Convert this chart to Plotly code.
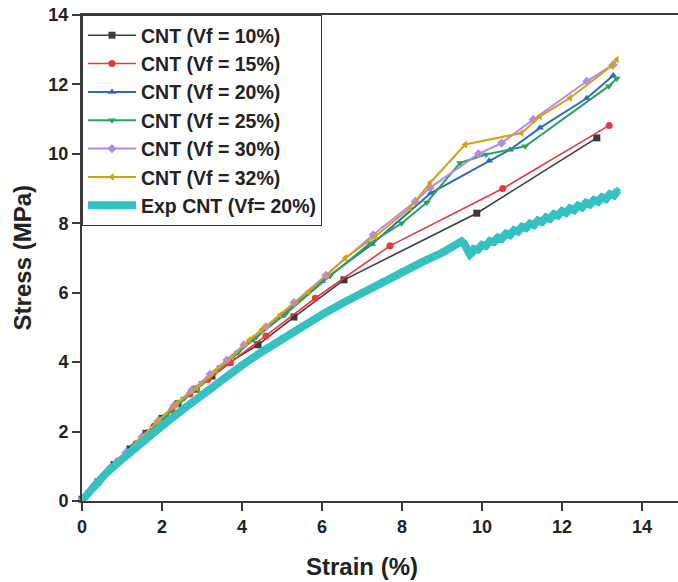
import plotly.graph_objects as go

# strain (%) / stress (MPa)
cnt10_x = [0.0, 0.4, 0.8, 1.2, 1.6, 2.0, 2.4, 2.85, 3.25, 3.7, 4.4, 5.3, 6.55, 9.87, 12.87]
cnt10_y = [0.05, 0.55, 1.05, 1.5, 1.95, 2.38, 2.8, 3.22, 3.6, 4.0, 4.5, 5.3, 6.37, 8.29, 10.46]

cnt15_x = [0.0, 0.45, 0.9, 1.35, 1.8, 2.25, 2.7, 3.15, 3.7, 4.6, 5.83, 7.7, 10.52, 13.18]
cnt15_y = [0.05, 0.6, 1.15, 1.65, 2.15, 2.62, 3.08, 3.5, 3.98, 4.75, 5.84, 7.35, 9.0, 10.82]

cnt20_x = [0.0, 0.35, 0.75, 1.15, 1.55, 1.95, 2.4, 2.85, 3.3, 3.75, 4.25, 5.0, 6.0, 7.25, 8.72, 10.18, 10.7, 11.45, 12.62, 13.28]
cnt20_y = [0.05, 0.5, 1.0, 1.45, 1.92, 2.36, 2.82, 3.25, 3.7, 4.12, 4.62, 5.33, 6.33, 7.4, 8.87, 9.8, 10.12, 10.75, 11.6, 12.26]

cnt25_x = [0.0, 0.4, 0.85, 1.3, 1.7, 2.1, 2.55, 3.0, 3.45, 3.9, 4.35, 5.1, 6.2, 7.2, 7.99, 8.62, 9.45, 10.1, 11.08, 13.17, 13.37]
cnt25_y = [0.05, 0.55, 1.1, 1.6, 2.02, 2.45, 2.95, 3.4, 3.85, 4.28, 4.72, 5.4, 6.48, 7.42, 8.0, 8.6, 9.74, 9.98, 10.22, 11.95, 12.17]

cnt30_x = [0.0, 0.3, 0.7, 1.1, 1.5, 1.9, 2.3, 2.75, 3.2, 3.62, 4.05, 4.6, 5.3, 6.1, 7.28, 8.33, 8.7, 9.91, 10.49, 11.28, 12.62, 13.28]
cnt30_y = [0.05, 0.45, 0.95, 1.4, 1.85, 2.3, 2.75, 3.2, 3.65, 4.06, 4.5, 5.02, 5.72, 6.5, 7.67, 8.63, 9.02, 10.0, 10.31, 10.99, 12.09, 12.57]

cnt32_x = [0.0, 0.45, 0.9, 1.4, 1.9, 2.37, 2.87, 3.35, 3.75, 4.18, 4.49, 4.95, 5.66, 6.58, 7.33, 8.2, 8.7, 9.58, 10.99, 11.45, 12.2, 13.24, 13.37]
cnt32_y = [0.05, 0.6, 1.15, 1.72, 2.3, 2.81, 3.24, 3.75, 4.15, 4.64, 4.93, 5.36, 6.03, 7.0, 7.62, 8.44, 9.16, 10.27, 10.6, 11.08, 11.61, 12.53, 12.72]

exp_x = [0.05, 0.3, 0.6, 1.0, 1.5, 2.0, 2.5, 3.0, 3.5, 4.0, 4.5, 5.0, 5.5, 6.0, 6.5,
         7.0, 7.5, 8.0, 8.5, 9.0, 9.3, 9.49, 9.55, 9.62, 9.7, 9.75,
         9.8, 9.9, 10.0, 10.1, 10.2, 10.3, 10.4, 10.5, 10.6, 10.7, 10.8, 10.9,
         11.0, 11.1, 11.2, 11.3, 11.4, 11.5, 11.6, 11.7, 11.8, 11.9, 12.0, 12.1,
         12.2, 12.3, 12.4, 12.5, 12.6, 12.7, 12.8, 12.9, 13.0, 13.1, 13.2, 13.3, 13.4]
exp_y = [0.08, 0.42, 0.8, 1.2, 1.7, 2.16, 2.62, 3.07, 3.5, 3.91, 4.3, 4.67, 5.03, 5.37, 5.69,
         6.0, 6.3, 6.6, 6.88, 7.15, 7.32, 7.48, 7.42, 7.2, 7.1, 7.15,
         7.26, 7.24, 7.38, 7.35, 7.49, 7.46, 7.59, 7.56, 7.70, 7.66, 7.80, 7.76,
         7.90, 7.86, 7.99, 7.95, 8.08, 8.04, 8.17, 8.13, 8.26, 8.22, 8.35, 8.30,
         8.43, 8.38, 8.51, 8.46, 8.59, 8.54, 8.67, 8.62, 8.75, 8.70, 8.84, 8.80, 8.95]

FONT = "Liberation Sans, Arial, sans-serif"

series = [
    ("CNT (Vf = 10%)", cnt10_x, cnt10_y, "#3c3c3c", "square", 1.6),
    ("CNT (Vf = 15%)", cnt15_x, cnt15_y, "#e5393e", "circle", 1.6),
    ("CNT (Vf = 20%)", cnt20_x, cnt20_y, "#2b6cc0", "triangle-up", 2),
    ("CNT (Vf = 25%)", cnt25_x, cnt25_y, "#2aa35c", "triangle-down", 2),
    ("CNT (Vf = 30%)", cnt30_x, cnt30_y, "#b48be3", "diamond", 2),
    ("CNT (Vf = 32%)", cnt32_x, cnt32_y, "#d3a21a", "triangle-left", 2),
]

fig = go.Figure()

for name, xs, ys, color, symbol, lw in series:
    fig.add_trace(
        go.Scatter(
            x=xs, y=ys, name=name, mode="lines+markers",
            line=dict(color=color, width=lw),
            marker=dict(symbol=symbol, size=7, color=color),
            cliponaxis=False,
        )
    )

fig.add_trace(
    go.Scatter(
        x=exp_x, y=exp_y, name="Exp CNT (Vf= 20%)", mode="lines+markers",
        line=dict(color="#35c1c1", width=8),
        marker=dict(symbol="triangle-right", size=7, color="#35c1c1"),
        cliponaxis=False,
    )
)

axis_style = dict(
    showline=True, linecolor="#3a3a3a", linewidth=2,
    ticks="outside", ticklen=8, tickwidth=2, tickcolor="#3a3a3a",
    showgrid=False, zeroline=False, automargin=False,
    tickfont=dict(family=FONT, size=18, color="#222", weight="bold"),
)

fig.update_xaxes(range=[0, 14.9], dtick=2, mirror=True, **axis_style)
fig.update_yaxes(range=[0, 14], dtick=2, **axis_style)

fig.update_layout(
    width=678, height=582,
    margin=dict(l=82, r=0, t=15, b=81),
    plot_bgcolor="white", paper_bgcolor="white",
    showlegend=True,
    legend=dict(
        x=0, y=1, xanchor="left", yanchor="top",
        bordercolor="#333", borderwidth=1, bgcolor="rgba(255,255,255,0)",
        font=dict(family=FONT, size=19.5, color="#222", weight="bold"),
        tracegroupgap=0, itemwidth=48,
    ),
    annotations=[
        dict(text="Strain (%)", x=7, y=-0.135, xref="x", yref="paper",
             showarrow=False, xanchor="center", yanchor="middle",
             font=dict(family=FONT, size=24, color="#222", weight="bold")),
        dict(text="Stress (MPa)", x=-0.1, y=0.5, xref="paper", yref="paper",
             showarrow=False, textangle=-90, xanchor="center", yanchor="middle",
             font=dict(family=FONT, size=24, color="#222", weight="bold")),
    ],
)

# drop the browser's default page margin so the figure sits at the window corner
fig.write_html(
    "out.html",
    config={"displayModeBar": False},
    post_script="document.body.style.margin='0';",
)
